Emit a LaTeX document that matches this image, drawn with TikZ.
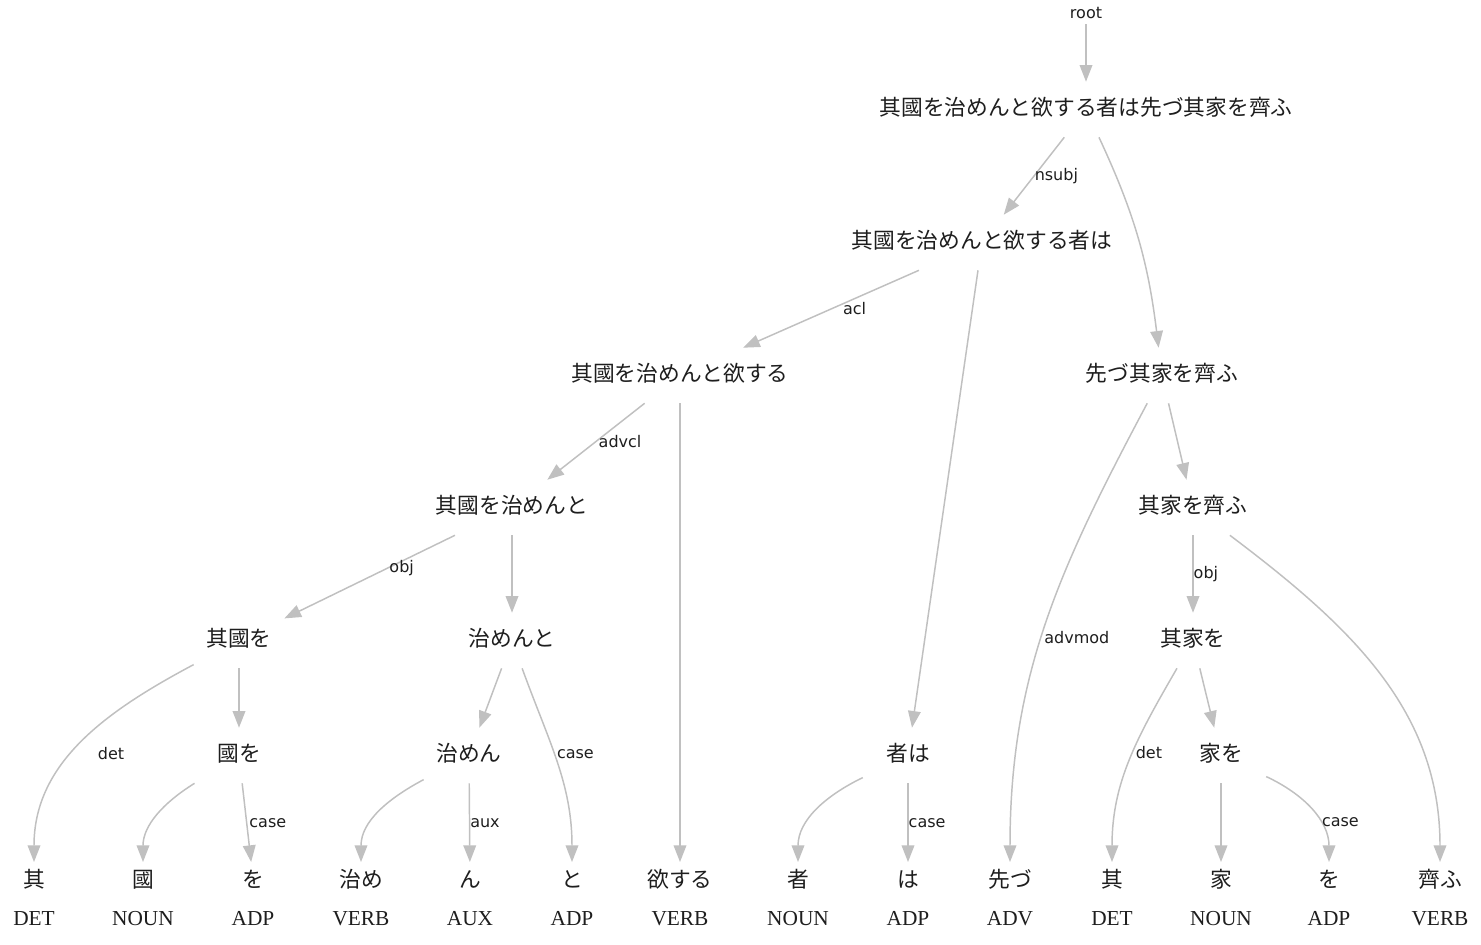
\documentclass[tikz,border=0pt]{standalone}
\usepackage{fontspec}
\setmainfont{Liberation Serif}
\newfontfamily\jpfont{Noto Sans CJK JP}
\newfontfamily\lblfont{DejaVu Sans}
\usepackage{tikz}
\usetikzlibrary{arrows.meta}
\definecolor{edgegray}{RGB}{192,192,192}
\definecolor{inkgray}{RGB}{30,30,30}

\tikzset{
	phrase/.style={font=\jpfont\fontsize{16.3}{16.3}\selectfont, text=inkgray,
		text height=25pt, text depth=16.3pt, inner ysep=0pt, inner xsep=9.4pt,
		minimum width=67.5pt},
	word/.style={font=\jpfont\fontsize{16.3}{16.3}\selectfont, text=inkgray,
		text height=19pt, text depth=5pt, inner sep=0pt, anchor=north},
	tag/.style={font=\fontsize{16}{16}\selectfont, text=inkgray, inner sep=0pt, anchor=base},
	elabel/.style={font=\lblfont\fontsize{12}{12}\selectfont, text=inkgray, inner sep=1.5pt},
	dep/.style={draw=edgegray, line width=1.1pt, -{Triangle[length=12.5pt,width=9.5pt]}}
}

\begin{document}
\begin{tikzpicture}[x=0.75pt, y=-0.75pt]
		\fill[white] (0,0) rectangle (1481,945);
		% phrases
		\node[elabel, inner sep=4pt] (top) at (1086,13) {root};
		\node[phrase] (p0) at (1086,109.5) {其國を治めんと欲する者は先づ其家を齊ふ};
		\node[phrase] (p1) at (982,242.5) {其國を治めんと欲する者は};
		\node[phrase] (p3) at (680,375.5) {其國を治めんと欲する};
		\node[phrase] (p2) at (1162,375.5) {先づ其家を齊ふ};
		\node[phrase] (p4) at (512,507.5) {其國を治めんと};
		\node[phrase] (p10) at (1193,507.5) {其家を齊ふ};
		\node[phrase] (p5) at (239,640.5) {其國を};
		\node[phrase] (p6) at (512,640.5) {治めんと};
		\node[phrase] (p11) at (1193,640.5) {其家を};
		\node[phrase] (p7) at (239,755.5) {國を};
		\node[phrase] (p8) at (469,755.5) {治めん};
		\node[phrase] (p9) at (908,755.5) {者は};
		\node[phrase] (p12) at (1221,755.5) {家を};
		% words
		\node[word] (w1) at (34,862) {其};
		\node[word] (w2) at (143,862) {國};
		\node[word] (w3) at (253,862) {を};
		\node[word] (w4) at (361,862) {治め};
		\node[word] (w5) at (470,862) {ん};
		\node[word] (w6) at (572,862) {と};
		\node[word] (w7) at (680,862) {欲する};
		\node[word] (w8) at (798,862) {者};
		\node[word] (w9) at (908,862) {は};
		\node[word] (w10) at (1010,862) {先づ};
		\node[word] (w11) at (1112,862) {其};
		\node[word] (w12) at (1221,862) {家};
		\node[word] (w13) at (1329,862) {を};
		\node[word] (w14) at (1440,862) {齊ふ};
		% tags
		\node[tag] (t1) at (34,925) {DET};
		\node[tag] (t2) at (143,925) {NOUN};
		\node[tag] (t3) at (253,925) {ADP};
		\node[tag] (t4) at (361,925) {VERB};
		\node[tag] (t5) at (470,925) {AUX};
		\node[tag] (t6) at (572,925) {ADP};
		\node[tag] (t7) at (680,925) {VERB};
		\node[tag] (t8) at (798,925) {NOUN};
		\node[tag] (t9) at (908,925) {ADP};
		\node[tag] (t10) at (1010,925) {ADV};
		\node[tag] (t11) at (1112,925) {DET};
		\node[tag] (t12) at (1221,925) {NOUN};
		\node[tag] (t13) at (1329,925) {ADP};
		\node[tag] (t14) at (1440,925) {VERB};
		% arcs
		\draw[dep] (top) -- (p0);
		\draw[dep] (p0) -- node[elabel, right, pos=.5, inner xsep=0pt] {nsubj} (p1);
		\draw[dep] (p0) to[out=-65, in=97] (p2);
		\draw[dep] (p1) -- node[elabel, right=7pt] {acl} (p3);
		\draw[dep] (p1) -- (p9);
		\draw[dep] (p3) -- node[elabel, right] {advcl} (p4);
		\draw[dep] (p3) -- (w7);
		\draw[dep] (p4) -- node[elabel, right, pos=.4] {obj} (p5);
		\draw[dep] (p4) -- (p6);
		\draw[dep] (p5) to[out=208, in=90] node[elabel, right=17pt, pos=.55] {det} (w1);
		\draw[dep] (p5) -- (p7);
		\draw[dep] (p7) to[out=212, in=90] (w2);
		\draw[dep] (p7) -- node[elabel, right] {case} (w3);
		\draw[dep] (p6) -- (p8);
		\draw[dep] (p6) to[out=-70, in=90] node[elabel, right, pos=.45] {case} (w6);
		\draw[dep] (p8) to[out=208, in=90] (w4);
		\draw[dep] (p8) -- node[elabel, right, inner xsep=0pt] {aux} (w5);
		\draw[dep] (p9) to[out=206, in=90] (w8);
		\draw[dep] (p9) -- node[elabel, right, inner xsep=0pt] {case} (w9);
		\draw[dep] (p2) to[out=-118, in=90] node[elabel, right, pos=.53] {advmod} (w10);
		\draw[dep] (p2) -- (p10);
		\draw[dep] (p10) -- node[elabel, right, inner xsep=0pt] {obj} (p11);
		\draw[dep] (p10) to[out=-37, in=90] (w14);
		\draw[dep] (p11) to[out=-120, in=90] node[elabel, right, pos=.45] {det} (w11);
		\draw[dep] (p11) -- (p12);
		\draw[dep] (p12) -- (w12);
		\draw[dep] (p12) to[out=-25, in=90] node[elabel, right, pos=.63] {case} (w13);
\end{tikzpicture}
\end{document}
